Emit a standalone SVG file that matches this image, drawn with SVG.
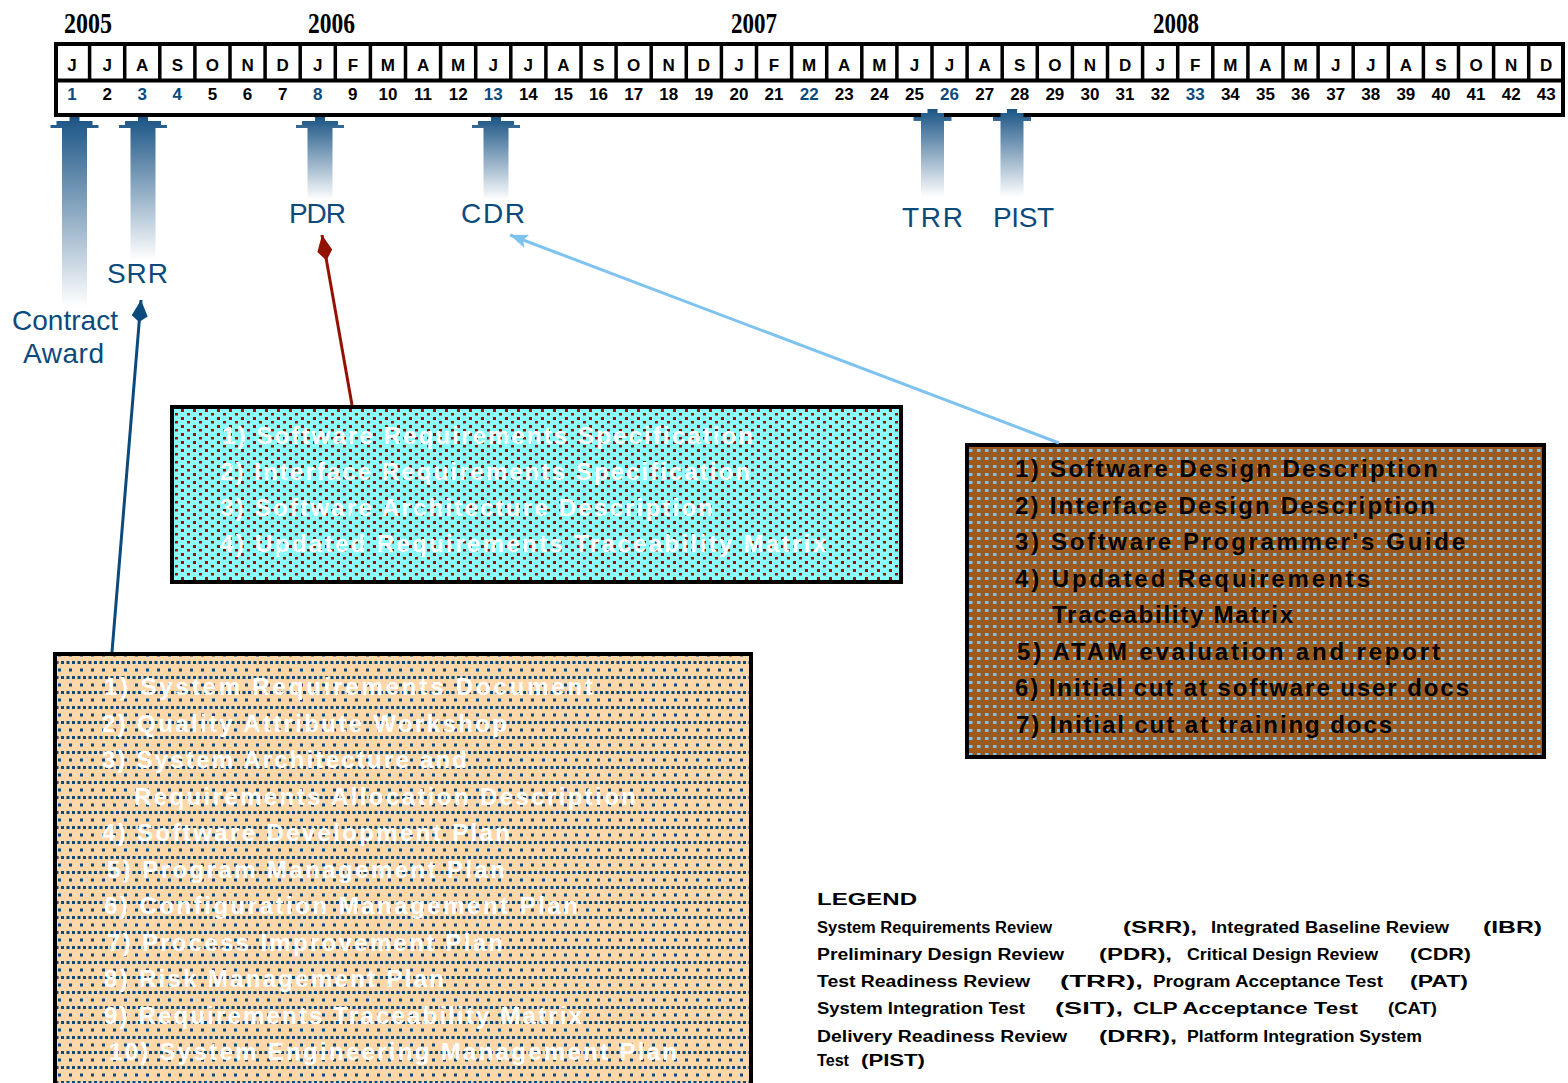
<svg xmlns="http://www.w3.org/2000/svg" width="1568" height="1083" viewBox="0 0 1568 1083">
<style>
.mon{font-family:'Liberation Sans',Arial,sans-serif;font-weight:bold;font-size:17px;text-anchor:middle;fill:#000}
.nb{fill:#0b4a7d}
.yr{font-family:'Liberation Serif','Times New Roman',serif;font-weight:bold;font-size:30px;fill:#000}
.lbl{font-family:'Liberation Sans',Arial,sans-serif;font-size:28px;fill:#0b4a7d}
.bt{font-family:'Liberation Sans',Arial,sans-serif;font-size:24px;font-weight:bold}
.w{fill:#fff}
.k{fill:#000}
.lg{font-family:'Liberation Sans',Arial,sans-serif;font-weight:bold;font-size:16px;fill:#000}
.arr{fill:url(#fade)}
.box{stroke:#000;stroke-width:4}
.con{fill:none;stroke-width:3}
</style>
<defs>
<linearGradient id="fade" x1="0" y1="0" x2="0" y2="1">
<stop offset="0" stop-color="#1a5485"/>
<stop offset="1" stop-color="#ffffff"/>
</linearGradient>
<pattern id="pCyan" width="12" height="8" patternUnits="userSpaceOnUse">
<rect width="12" height="8" fill="#8cffff"/>
<rect x="1" y="1" width="3" height="3" fill="#991100"/>
<rect x="7" y="5" width="3" height="2.5" fill="#991100"/>
</pattern>
<pattern id="pBrown" width="8" height="8" patternUnits="userSpaceOnUse">
<rect width="8" height="8" fill="#9e5a1c"/>
<rect x="1" y="1" width="3.5" height="3" fill="#7dc3ef"/>
</pattern>
<pattern id="pPeach" width="11" height="15" patternUnits="userSpaceOnUse">
<rect width="11" height="15" fill="#ffd7a8"/>
<rect x="0.5" y="1" width="3" height="3" fill="#0b4a7d"/>
<rect x="6" y="1" width="3" height="3" fill="#0b4a7d"/>
<rect x="3" y="8.5" width="3" height="3" fill="#0b4a7d"/>
</pattern>
<marker id="mNavy" viewBox="0 0 22 16" markerUnits="userSpaceOnUse" markerWidth="22" markerHeight="16" refX="22" refY="8" orient="auto">
<path d="M0,8 L6,0 L22,8 L6,16 Z" fill="#0b4a7d"/>
</marker>
<marker id="mRed" viewBox="0 0 26 16" markerUnits="userSpaceOnUse" markerWidth="26" markerHeight="16" refX="26" refY="8" orient="auto">
<path d="M0,8 L10,0.5 L26,8 L10,15.5 Z" fill="#931100"/>
</marker>
<marker id="mBlue" viewBox="0 0 18 14" markerUnits="userSpaceOnUse" markerWidth="18" markerHeight="14" refX="18" refY="7" orient="auto">
<path d="M0,0 L18,7 L0,14 L4,7 Z" fill="#7ec3f0"/>
</marker>
</defs>

<rect width="1568" height="1083" fill="#fff"/>

<g id="timeline">
<text class="yr" x="64" y="33" textLength="48" lengthAdjust="spacingAndGlyphs">2005</text>
<text class="yr" x="308" y="33" textLength="47" lengthAdjust="spacingAndGlyphs">2006</text>
<text class="yr" x="731" y="33" textLength="46" lengthAdjust="spacingAndGlyphs">2007</text>
<text class="yr" x="1153" y="33" textLength="46" lengthAdjust="spacingAndGlyphs">2008</text>
<rect x="56" y="44" width="1507" height="71" fill="#fff" stroke="#000" stroke-width="4"/>
<line x1="56" y1="80.5" x2="1563" y2="80.5" stroke="#000" stroke-width="4"/>
<path stroke="#000" stroke-width="3.5" fill="none" d="M89.6,44V80.5M124.7,44V80.5M159.8,44V80.5M194.9,44V80.5M230,44V80.5M265.1,44V80.5M300.2,44V80.5M335.3,44V80.5M370.4,44V80.5M405.5,44V80.5M440.6,44V80.5M475.7,44V80.5M510.8,44V80.5M545.9,44V80.5M581,44V80.5M616.1,44V80.5M651.2,44V80.5M686.3,44V80.5M721.4,44V80.5M756.5,44V80.5M791.6,44V80.5M826.7,44V80.5M861.8,44V80.5M896.9,44V80.5M932,44V80.5M967.1,44V80.5M1002.2,44V80.5M1037.3,44V80.5M1072.4,44V80.5M1107.5,44V80.5M1142.6,44V80.5M1177.7,44V80.5M1212.8,44V80.5M1247.9,44V80.5M1283,44V80.5M1318.1,44V80.5M1353.2,44V80.5M1388.3,44V80.5M1423.4,44V80.5M1458.5,44V80.5M1493.6,44V80.5M1528.7,44V80.5"/>
<g id="months">
<text class="mon" x="72.05" y="71">J</text>
<text class="mon" x="107.15" y="71">J</text>
<text class="mon" x="142.25" y="71">A</text>
<text class="mon" x="177.35" y="71">S</text>
<text class="mon" x="212.45" y="71">O</text>
<text class="mon" x="247.55" y="71">N</text>
<text class="mon" x="282.65" y="71">D</text>
<text class="mon" x="317.75" y="71">J</text>
<text class="mon" x="352.85" y="71">F</text>
<text class="mon" x="387.95" y="71">M</text>
<text class="mon" x="423.05" y="71">A</text>
<text class="mon" x="458.15" y="71">M</text>
<text class="mon" x="493.25" y="71">J</text>
<text class="mon" x="528.35" y="71">J</text>
<text class="mon" x="563.45" y="71">A</text>
<text class="mon" x="598.55" y="71">S</text>
<text class="mon" x="633.65" y="71">O</text>
<text class="mon" x="668.75" y="71">N</text>
<text class="mon" x="703.85" y="71">D</text>
<text class="mon" x="738.95" y="71">J</text>
<text class="mon" x="774.05" y="71">F</text>
<text class="mon" x="809.15" y="71">M</text>
<text class="mon" x="844.25" y="71">A</text>
<text class="mon" x="879.35" y="71">M</text>
<text class="mon" x="914.45" y="71">J</text>
<text class="mon" x="949.55" y="71">J</text>
<text class="mon" x="984.65" y="71">A</text>
<text class="mon" x="1019.75" y="71">S</text>
<text class="mon" x="1054.85" y="71">O</text>
<text class="mon" x="1089.95" y="71">N</text>
<text class="mon" x="1125.05" y="71">D</text>
<text class="mon" x="1160.15" y="71">J</text>
<text class="mon" x="1195.25" y="71">F</text>
<text class="mon" x="1230.35" y="71">M</text>
<text class="mon" x="1265.45" y="71">A</text>
<text class="mon" x="1300.55" y="71">M</text>
<text class="mon" x="1335.65" y="71">J</text>
<text class="mon" x="1370.75" y="71">J</text>
<text class="mon" x="1405.85" y="71">A</text>
<text class="mon" x="1440.95" y="71">S</text>
<text class="mon" x="1476.05" y="71">O</text>
<text class="mon" x="1511.15" y="71">N</text>
<text class="mon" x="1546.25" y="71">D</text>
</g>
<g id="numbers">
<text class="mon nb" x="72.05" y="100">1</text>
<text class="mon" x="107.15" y="100">2</text>
<text class="mon nb" x="142.25" y="100">3</text>
<text class="mon nb" x="177.35" y="100">4</text>
<text class="mon" x="212.45" y="100">5</text>
<text class="mon" x="247.55" y="100">6</text>
<text class="mon" x="282.65" y="100">7</text>
<text class="mon nb" x="317.75" y="100">8</text>
<text class="mon" x="352.85" y="100">9</text>
<text class="mon" x="387.95" y="100">10</text>
<text class="mon" x="423.05" y="100">11</text>
<text class="mon" x="458.15" y="100">12</text>
<text class="mon nb" x="493.25" y="100">13</text>
<text class="mon" x="528.35" y="100">14</text>
<text class="mon" x="563.45" y="100">15</text>
<text class="mon" x="598.55" y="100">16</text>
<text class="mon" x="633.65" y="100">17</text>
<text class="mon" x="668.75" y="100">18</text>
<text class="mon" x="703.85" y="100">19</text>
<text class="mon" x="738.95" y="100">20</text>
<text class="mon" x="774.05" y="100">21</text>
<text class="mon nb" x="809.15" y="100">22</text>
<text class="mon" x="844.25" y="100">23</text>
<text class="mon" x="879.35" y="100">24</text>
<text class="mon" x="914.45" y="100">25</text>
<text class="mon nb" x="949.55" y="100">26</text>
<text class="mon" x="984.65" y="100">27</text>
<text class="mon" x="1019.75" y="100">28</text>
<text class="mon" x="1054.85" y="100">29</text>
<text class="mon" x="1089.95" y="100">30</text>
<text class="mon" x="1125.05" y="100">31</text>
<text class="mon" x="1160.15" y="100">32</text>
<text class="mon nb" x="1195.25" y="100">33</text>
<text class="mon" x="1230.35" y="100">34</text>
<text class="mon" x="1265.45" y="100">35</text>
<text class="mon" x="1300.55" y="100">36</text>
<text class="mon" x="1335.65" y="100">37</text>
<text class="mon" x="1370.75" y="100">38</text>
<text class="mon" x="1405.85" y="100">39</text>
<text class="mon" x="1440.95" y="100">40</text>
<text class="mon" x="1476.05" y="100">41</text>
<text class="mon" x="1511.15" y="100">42</text>
<text class="mon" x="1546.25" y="100">43</text>
</g>
</g>

<g id="ms-contract-award">
<path class="arr" d="M69.5,117H79.5V121H92.5V125H98.5V128H87V307H62V128H50.5V125H56.5V121H69.5Z"/>
<text class="lbl" x="12" y="330" textLength="106" lengthAdjust="spacing">Contract</text>
<text class="lbl" x="23" y="363" textLength="81" lengthAdjust="spacing">Award</text>
</g>
<g id="ms-srr">
<path class="arr" d="M138,117H148V121H161V125H167V128H155.5V260H130.5V128H119V125H125V121H138Z"/>
<text class="lbl" x="107" y="283" textLength="61" lengthAdjust="spacing">SRR</text>
</g>
<g id="ms-pdr">
<path class="arr" d="M315,117H325V121H338V125H344V128H332.5V200H307.5V128H296V125H302V121H315Z"/>
<text class="lbl" x="289" y="223" textLength="57" lengthAdjust="spacing">PDR</text>
</g>
<g id="ms-cdr">
<path class="arr" d="M491,117H501V121H514V125H520V128H508.5V200H483.5V128H472V125H478V121H491Z"/>
<text class="lbl" x="461" y="223" textLength="64" lengthAdjust="spacing">CDR</text>
</g>
<g id="ms-trr">
<path class="arr" d="M927.5,109H937.5V113H944V117H951.5V121H944V197H921V121H913.5V117H921V113H927.5Z"/>
<text class="lbl" x="902" y="227" textLength="61" lengthAdjust="spacing">TRR</text>
</g>
<g id="ms-pist">
<path class="arr" d="M1007,109H1017V113H1023.5V117H1031V121H1023.5V197H1000.5V121H993V117H1000.5V113H1007Z"/>
<text class="lbl" x="993" y="227" textLength="61" lengthAdjust="spacing">PIST</text>
</g>

<g id="box-pdr">
<rect class="box" x="172" y="407" width="729" height="175" fill="url(#pCyan)"/>
<text class="bt w" x="222" y="444" textLength="531" lengthAdjust="spacing">1) Software Requirements Specification</text>
<text class="bt w" x="220" y="480" textLength="530" lengthAdjust="spacing">2) Interface Requirements Specification</text>
<text class="bt w" x="220" y="516" textLength="493" lengthAdjust="spacing">3) Software Architecture Description</text>
<text class="bt w" x="220" y="552" textLength="606" lengthAdjust="spacing">4) Updated Requirements Traceability Matrix</text>
</g>

<g id="box-cdr">
<rect class="box" x="967" y="445" width="577" height="312" fill="url(#pBrown)"/>
<text class="bt k" x="1015" y="477" textLength="423" lengthAdjust="spacing">1) Software Design Description</text>
<text class="bt k" x="1015" y="514" textLength="420" lengthAdjust="spacing">2) Interface Design Description</text>
<text class="bt k" x="1015" y="550" textLength="450" lengthAdjust="spacing">3) Software Programmer's Guide</text>
<text class="bt k" x="1015" y="587" textLength="355" lengthAdjust="spacing">4) Updated Requirements</text>
<text class="bt k" x="1052" y="623" textLength="241" lengthAdjust="spacing">Traceability Matrix</text>
<text class="bt k" x="1017" y="660" textLength="423" lengthAdjust="spacing">5) ATAM evaluation and report</text>
<text class="bt k" x="1015" y="696" textLength="454" lengthAdjust="spacing">6) Initial cut at software user docs</text>
<text class="bt k" x="1016" y="733" textLength="376" lengthAdjust="spacing">7) Initial cut at training docs</text>
</g>

<g id="box-srr">
<rect class="box" x="55" y="654" width="696" height="445" fill="url(#pPeach)"/>
<text class="bt w" x="104" y="695" textLength="489" lengthAdjust="spacing">1) System Requirements Document</text>
<text class="bt w" x="102" y="732" textLength="405" lengthAdjust="spacing">2) Quality Attribute Workshop</text>
<text class="bt w" x="102" y="768" textLength="365" lengthAdjust="spacing">3) System Architecture and</text>
<text class="bt w" x="134" y="805" textLength="502" lengthAdjust="spacing">Requirements Allocation Description</text>
<text class="bt w" x="102" y="841" textLength="408" lengthAdjust="spacing">4) Software Development Plan</text>
<text class="bt w" x="107" y="878" textLength="398" lengthAdjust="spacing">5) Program Management Plan</text>
<text class="bt w" x="104" y="914" textLength="474" lengthAdjust="spacing">6) Configuration Management Plan</text>
<text class="bt w" x="107" y="951" textLength="396" lengthAdjust="spacing">7) Process Improvement Plan</text>
<text class="bt w" x="104" y="987" textLength="340" lengthAdjust="spacing">8) Risk Management Plan</text>
<text class="bt w" x="104" y="1024" textLength="478" lengthAdjust="spacing">9) Requirements Traceability Matrix</text>
<text class="bt w" x="109" y="1060" textLength="568" lengthAdjust="spacing">10) System Engineering Management Plan</text>
</g>

<g id="connectors">
<line class="con" x1="112" y1="652" x2="141" y2="300" stroke="#0b4a7d" marker-end="url(#mNavy)"/>
<line class="con" x1="352" y1="405" x2="322" y2="235" stroke="#931100" marker-end="url(#mRed)"/>
<line class="con" x1="1059" y1="443" x2="510" y2="235" stroke="#7ec3f0" stroke-width="2.5" marker-end="url(#mBlue)"/>
</g>

<g id="legend">
<text class="lg" x="817" y="905" textLength="100" lengthAdjust="spacingAndGlyphs">LEGEND</text>
<text class="lg" x="817" y="933" textLength="235" lengthAdjust="spacingAndGlyphs">System Requirements Review</text>
<text class="lg" x="1123" y="933" textLength="74" lengthAdjust="spacingAndGlyphs">(SRR),</text>
<text class="lg" x="1211" y="933" textLength="238" lengthAdjust="spacingAndGlyphs">Integrated Baseline Review</text>
<text class="lg" x="1483" y="933" textLength="59" lengthAdjust="spacingAndGlyphs">(IBR)</text>
<text class="lg" x="817" y="960" textLength="247" lengthAdjust="spacingAndGlyphs">Preliminary Design Review</text>
<text class="lg" x="1099" y="960" textLength="73" lengthAdjust="spacingAndGlyphs">(PDR),</text>
<text class="lg" x="1187" y="960" textLength="191" lengthAdjust="spacingAndGlyphs">Critical Design Review</text>
<text class="lg" x="1410" y="960" textLength="61" lengthAdjust="spacingAndGlyphs">(CDR)</text>
<text class="lg" x="817" y="987" textLength="213" lengthAdjust="spacingAndGlyphs">Test Readiness Review</text>
<text class="lg" x="1060" y="987" textLength="83" lengthAdjust="spacingAndGlyphs">(TRR),</text>
<text class="lg" x="1153" y="987" textLength="230" lengthAdjust="spacingAndGlyphs">Program Acceptance Test</text>
<text class="lg" x="1410" y="987" textLength="58" lengthAdjust="spacingAndGlyphs">(PAT)</text>
<text class="lg" x="817" y="1014" textLength="208" lengthAdjust="spacingAndGlyphs">System Integration Test</text>
<text class="lg" x="1055" y="1014" textLength="68" lengthAdjust="spacingAndGlyphs">(SIT),</text>
<text class="lg" x="1133" y="1014" textLength="225" lengthAdjust="spacingAndGlyphs">CLP Acceptance Test</text>
<text class="lg" x="1388" y="1014" textLength="49" lengthAdjust="spacingAndGlyphs">(CAT)</text>
<text class="lg" x="817" y="1042" textLength="250" lengthAdjust="spacingAndGlyphs">Delivery Readiness Review</text>
<text class="lg" x="1099" y="1042" textLength="78" lengthAdjust="spacingAndGlyphs">(DRR),</text>
<text class="lg" x="1187" y="1042" textLength="235" lengthAdjust="spacingAndGlyphs">Platform Integration System</text>
<text class="lg" x="817" y="1066" textLength="32" lengthAdjust="spacingAndGlyphs">Test</text>
<text class="lg" x="861" y="1066" textLength="64" lengthAdjust="spacingAndGlyphs">(PIST)</text>
</g>
</svg>
